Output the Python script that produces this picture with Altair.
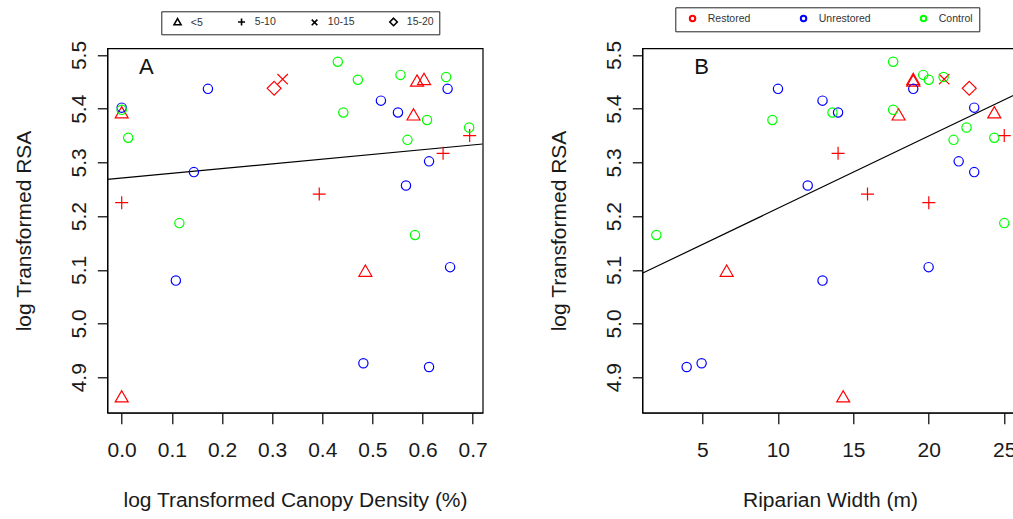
import altair as alt
import pandas as pd

# Site-level measurements: treatment group, restoration age class,
# log canopy density, riparian width (m) and log transformed RSA.
group = (["Restored"] * 12) + (["Unrestored"] * 12) + (["Control"] * 12)
age_class = [
    "<5", "5-10", "15-20", "10-15", "5-10", "<5", "<5", "<5", "5-10", "5-10", "<5", "<5",
] + ["none"] * 24
canopy = [
    0.000, 0.000, 0.304, 0.321, 0.394, 0.589, 0.603, 0.582, 0.694, 0.641, 0.486, 0.000,
    0.000, 0.172, 0.650, 0.144, 0.517, 0.551, 0.613, 0.567, 0.655, 0.108, 0.482, 0.613,
    0.000, 0.013, 0.115, 0.431, 0.471, 0.442, 0.556, 0.609, 0.570, 0.647, 0.693, 0.585,
]
riparian_width = [
    24.34, 20.00, 22.68, 21.02, 15.94, 18.97, 18.97, 18.00, 25.00, 13.99, 6.61, 14.33,
    23.01, 10.01, 18.97, 23.01, 12.96, 13.99, 21.98, 11.98, 19.99, 12.96, 4.95, 3.96,
    17.64, 24.34, 25.00, 17.64, 20.00, 13.62, 19.63, 9.64, 21.64, 20.98, 22.50, 1.95,
]
rsa = [
    5.390, 5.225, 5.438, 5.455, 5.241, 5.449, 5.452, 5.386, 5.350, 5.317, 5.095, 4.861,
    5.402, 5.437, 5.437, 5.282, 5.415, 5.393, 5.302, 5.257, 5.105, 5.080, 4.926, 4.919,
    5.398, 5.346, 5.187, 5.4875, 5.454, 5.393, 5.463, 5.379, 5.342, 5.459, 5.365, 5.165,
]

# Fitted lines (intercept, slope) for RSA against each predictor
fit_canopy = (5.271, 0.0879)
fit_width = (5.0798, 0.01347)

groups = ["Restored", "Unrestored", "Control"]
group_colors = ["#FF0000", "#0000FF", "#00FF00"]
classes = ["none", "<5", "5-10", "10-15", "15-20"]
class_symbols = [
    "M-0.715,0A0.715,0.715,0,1,0,0.715,0A0.715,0.715,0,1,0,-0.715,0Z",
    "M0,-1.155L1,0.578L-1,0.578Z",
    "M-1,0L1,0M0,-1L0,1",
    "M-0.8,-0.8L0.8,0.8M-0.8,0.8L0.8,-0.8",
    "M0,-1.07L1.07,0L0,1.07L-1.07,0Z",
]

sites = pd.DataFrame({
    "group": group,
    "age": age_class,
    "canopy": canopy,
    "width": riparian_width,
    "rsa": rsa,
})

FONT = "Liberation Sans"
y_dom = [4.834, 5.5125]
xa_dom = [-0.0287, 0.72]
xb_dom = [1.02, 25.89]
W, H = 375.4, 364.4

y_scale = alt.Scale(domain=y_dom, nice=False, zero=False)


def y_axis():
    return alt.Axis(
        values=[4.9, 5.0, 5.1, 5.2, 5.3, 5.4, 5.5], format=".1f",
        labelAngle=270, labelAlign="center", labelBaseline="bottom",
        tickSize=10, labelPadding=8, titlePadding=34,
        title="log Transformed RSA",
    )


def fit_frame(coef, dom):
    b0, b1 = coef
    return pd.DataFrame({"x": dom, "y": [b0 + b1 * v for v in dom]})


def panel(xfield, xdom, xvals, xfmt, xtitle, coef, letter, letter_x, shape_legend, color_legend):
    xs = alt.Scale(domain=xdom, nice=False, zero=False)
    pts = alt.Chart(sites).mark_point(filled=False, strokeWidth=1.2, opacity=1, size=169).encode(
        x=alt.X(f"{xfield}:Q", scale=xs,
                axis=alt.Axis(values=xvals, format=xfmt, tickSize=11, labelPadding=16,
                              titlePadding=29, title=xtitle, labelFlush=False)),
        y=alt.Y("rsa:Q", scale=y_scale, axis=y_axis()),
        color=alt.Color("group:N", scale=alt.Scale(domain=groups, range=group_colors),
                        legend=color_legend),
        shape=alt.Shape("age:N", scale=alt.Scale(domain=classes, range=class_symbols),
                        legend=shape_legend),
    )
    line = alt.Chart(fit_frame(coef, xdom)).mark_line(color="black", strokeWidth=1.2, clip=True).encode(
        x=alt.X("x:Q", scale=xs), y=alt.Y("y:Q", scale=y_scale)
    )
    # one-row source so the panel letter is drawn once
    tag = alt.Chart(pd.DataFrame({"panel": [letter]})).mark_text(
        fontSize=22, font=FONT, fontWeight="normal", color="#111"
    ).encode(
        text="panel:N",
        x=alt.datum(letter_x, type="quantitative"), y=alt.datum(5.478, type="quantitative")
    )
    return alt.layer(line, pts, tag).properties(width=W, height=H)


legend_a = alt.Legend(
    orient="none", legendX=54, legendY=-37, direction="horizontal", title=None,
    values=["<5", "5-10", "10-15", "15-20"],
    symbolStrokeColor="black", symbolFillColor="transparent", symbolSize=49,
    symbolStrokeWidth=1.6, labelFontSize=10.5, labelFont=FONT, labelColor="#333",
    columnPadding=27, padding=5, symbolOffset=6, labelOffset=8,
    strokeColor="#222", fillColor="white", cornerRadius=0,
)
legend_b = alt.Legend(
    orient="none", legendX=33, legendY=-41, direction="horizontal", title=None,
    symbolType="circle", symbolSize=30, symbolStrokeWidth=2, symbolFillColor="transparent",
    labelFontSize=10.5, labelFont=FONT, labelColor="#333",
    columnPadding=41, padding=6, symbolOffset=6, labelOffset=10,
    strokeColor="#222", fillColor="white", cornerRadius=0,
)

chart_a = panel("canopy", xa_dom, [0.0, 0.1, 0.2, 0.3, 0.4, 0.5, 0.6, 0.7], ".1f",
                "log Transformed Canopy Density (%)", fit_canopy, "A", 0.049, legend_a, None)
chart_b = panel("width", xb_dom, [5, 10, 15, 20, 25], "d",
                "Riparian Width (m)", fit_width, "B", 4.95, None, legend_b)

chart = alt.hconcat(chart_a, chart_b, spacing=159, bounds="flush").resolve_scale(
    color="independent", shape="independent"
).properties(
    autosize=alt.AutoSizeParams(type="none"),
    padding={"left": 107.3, "top": 48.3, "right": 1013 - 107.3, "bottom": 519 - 48.3},
).configure_view(
    stroke="black", strokeWidth=1.2
).configure_axis(
    grid=False, domainColor="black", tickColor="black", domainWidth=1.2, tickWidth=1.2,
    labelFont=FONT, titleFont=FONT, labelFontSize=21, titleFontSize=21,
    labelColor="#1a1a1a", titleColor="#1a1a1a", titleFontWeight="normal",
)

chart.save("out.html", embed_options={"renderer": "svg", "actions": False})
